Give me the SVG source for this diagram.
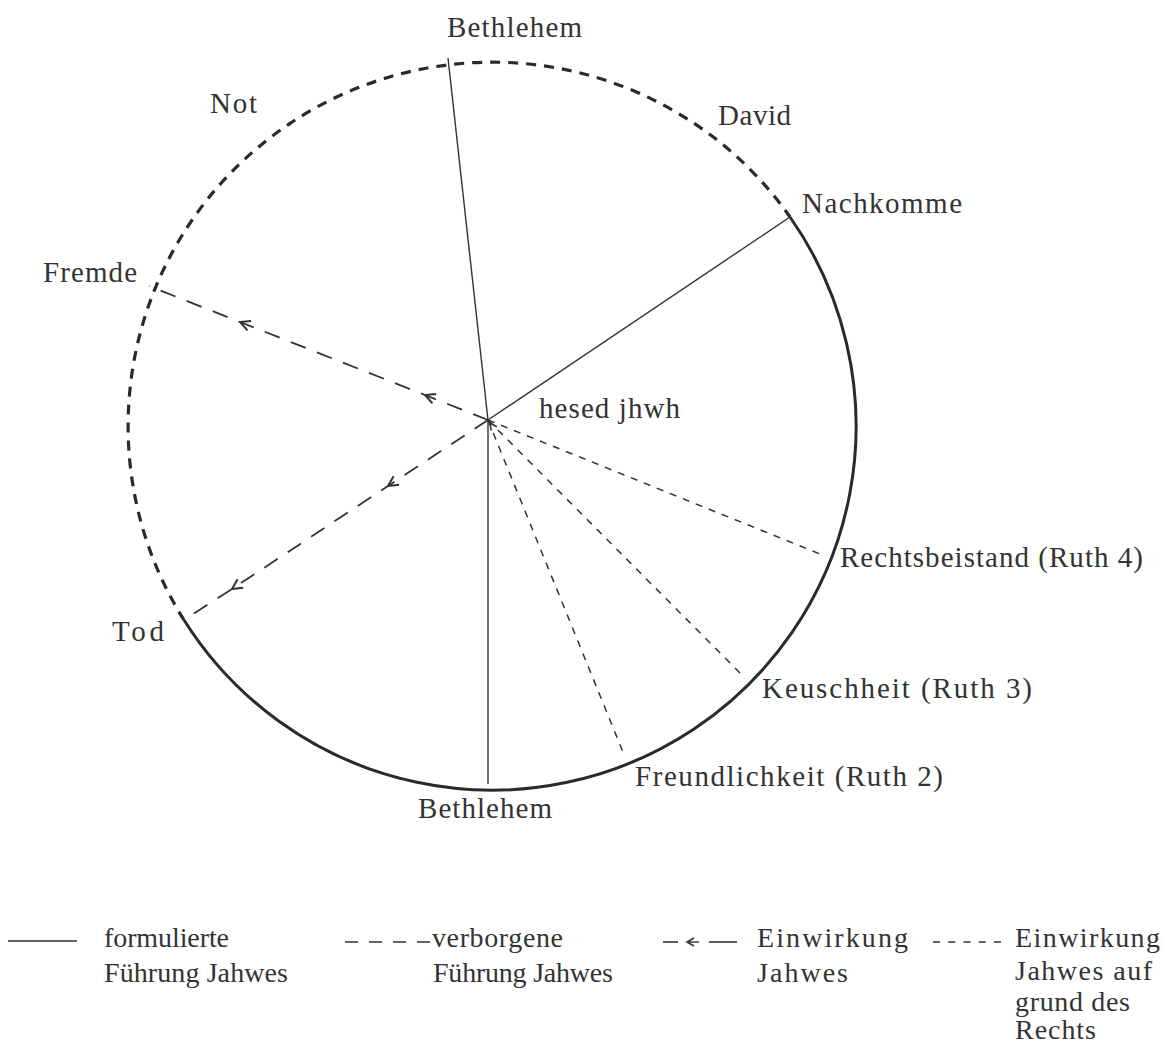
<svg xmlns="http://www.w3.org/2000/svg" width="1165" height="1045" viewBox="0 0 1165 1045">
<style>
text{font-family:"Liberation Serif","Times New Roman",serif;font-size:29px;fill:#333}
#legend text{font-size:28px}
.solid{stroke:#333;stroke-width:1.4;fill:none}
.rim{stroke:#2a2a2a;stroke-width:3;fill:none}
.rimdash{stroke:#2a2a2a;stroke-width:3.2;fill:none;stroke-dasharray:10 8}
.long{stroke:#333;stroke-width:1.8;fill:none;stroke-dasharray:16 12}
.dot{stroke:#333;stroke-width:1.5;fill:none;stroke-dasharray:7 7}
.chev{stroke:#333;stroke-width:2;fill:none}
</style>
<defs>
<marker id="arr" markerUnits="userSpaceOnUse" markerWidth="24" markerHeight="24" refX="12" refY="12" orient="auto" overflow="visible">
<path d="M2,7 L12,12 L2,17" class="chev"/>
</marker>
</defs>
<g id="circle">
<path class="rim" d="M790,217 A364,364 0 1 1 184,620"/>
<path class="rimdash" d="M184,620 A364,364 0 0 1 790,217"/>
</g>
<g id="connectors">
<line class="solid" x1="488" y1="420" x2="448" y2="58"/>
<line class="solid" x1="488" y1="420" x2="790" y2="217"/>
<line class="solid" x1="488" y1="420" x2="488" y2="784"/>
<polyline class="long" points="488,420 425,395 240,322 149,286" marker-mid="url(#arr)"/>
<polyline class="long" points="488,420 388,486 232,589 184,620" marker-mid="url(#arr)"/>
<line class="dot" x1="488" y1="420" x2="825" y2="556"/>
<line class="dot" x1="488" y1="420" x2="745" y2="678"/>
<line class="dot" x1="488" y1="420" x2="625" y2="757"/>
<path class="chev" d="M-7,-3.5 L0,0 L-7,3.5" transform="translate(490,423) rotate(-125)" style="stroke-width:1.6"/>
</g>
<g id="labels">
<text id="bethlehem-top" x="447" y="37" textLength="135" lengthAdjust="spacing">Bethlehem</text>
<text id="not" x="210" y="113" textLength="47" lengthAdjust="spacing">Not</text>
<text id="david" x="718" y="125" textLength="73" lengthAdjust="spacing">David</text>
<text id="nachkomme" x="802" y="213" textLength="160" lengthAdjust="spacing">Nachkomme</text>
<text id="fremde" x="43" y="282" textLength="94" lengthAdjust="spacing">Fremde</text>
<text id="hesed" x="539" y="418" textLength="141" lengthAdjust="spacing">hesed jhwh</text>
<text id="rechts" x="840" y="567" textLength="303" lengthAdjust="spacing">Rechtsbeistand (Ruth 4)</text>
<text id="tod" x="112" y="641" textLength="52" lengthAdjust="spacing">Tod</text>
<text id="keusch" x="762" y="698" textLength="270" lengthAdjust="spacing">Keuschheit (Ruth 3)</text>
<text id="freund" x="635" y="786" textLength="308" lengthAdjust="spacing">Freundlichkeit (Ruth 2)</text>
<text id="bethlehem-bottom" x="418" y="818" textLength="134" lengthAdjust="spacing">Bethlehem</text>
</g>
<g id="legend">
<line x1="8" y1="941" x2="77" y2="941" stroke="#333" stroke-width="1.6"/>
<text x="104" y="947" textLength="125" lengthAdjust="spacing">formulierte</text>
<text x="104" y="982" textLength="184" lengthAdjust="spacing">Führung Jahwes</text>
<line x1="345" y1="942" x2="430" y2="942" stroke="#333" stroke-width="1.5" stroke-dasharray="13 11"/>
<text x="432" y="947" textLength="131" lengthAdjust="spacing">verborgene</text>
<text x="433" y="982" textLength="180" lengthAdjust="spacing">Führung Jahwes</text>
<line x1="663" y1="942" x2="678" y2="942" stroke="#333" stroke-width="1.6"/>
<line x1="687" y1="942" x2="699" y2="942" stroke="#333" stroke-width="1.4"/>
<path class="chev" d="M694,938 L687,942 L694,946" style="stroke-width:1.6"/>
<line x1="709" y1="942" x2="737" y2="942" stroke="#333" stroke-width="1.6"/>
<text x="757" y="947" textLength="151" lengthAdjust="spacing">Einwirkung</text>
<text x="757" y="982" textLength="91" lengthAdjust="spacing">Jahwes</text>
<line x1="933" y1="942" x2="1001" y2="942" stroke="#333" stroke-width="1.5" stroke-dasharray="7 8.25"/>
<text x="1015" y="947" textLength="145" lengthAdjust="spacing">Einwirkung</text>
<text x="1015" y="980" textLength="137" lengthAdjust="spacing">Jahwes auf</text>
<text x="1015" y="1011" textLength="115" lengthAdjust="spacing">grund des</text>
<text x="1015" y="1039" textLength="81" lengthAdjust="spacing">Rechts</text>
</g>
</svg>
